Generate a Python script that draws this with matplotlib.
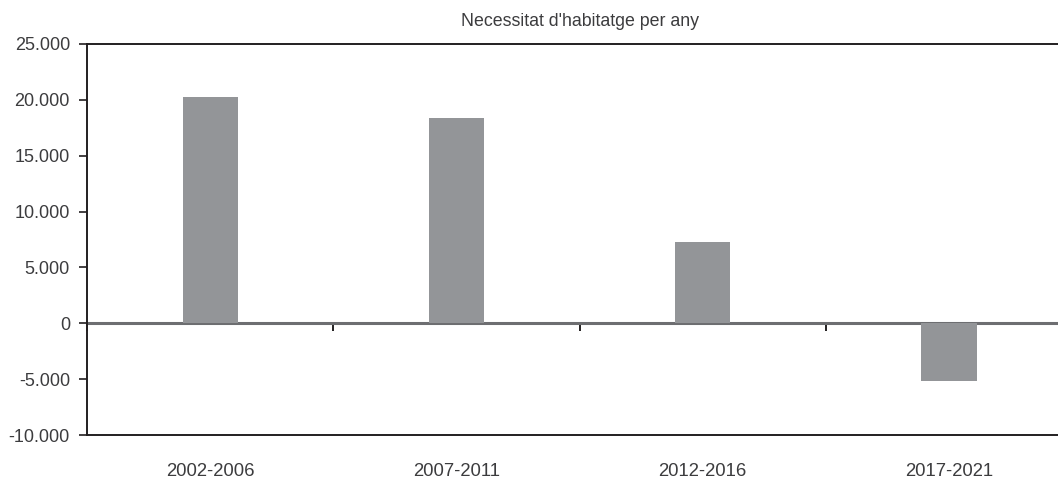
import matplotlib
matplotlib.use("Agg")
import matplotlib.pyplot as plt
from matplotlib.ticker import FuncFormatter, FixedLocator

categories = ["2002-2006", "2007-2011", "2012-2016", "2017-2021"]
values = [20300, 18400, 7300, -5200]
title = "Necessitat d'habitatge per any"
y_ticks = [-10000, -5000, 0, 5000, 10000, 15000, 20000, 25000]

plt.rcParams['font.family'] = ['Liberation Sans', 'DejaVu Sans']
text_color = '#3c3c3e'
bar_color = '#939598'
axis_color = '#231f20'
zero_color = '#6d6e71'

W, H = 1058, 479
fig = plt.figure(figsize=(W / 100, H / 100), dpi=100)
left, right, top, bottom = 87.3 / W, 1072 / W, 1 - 44 / H, 1 - 435 / H
ax = fig.add_axes([left, bottom, right - left, top - bottom])

x = list(range(len(categories)))
ax.bar(x, values, width=0.225, color=bar_color, zorder=2)

ymin, ymax = y_ticks[0], y_ticks[-1]
ax.set_ylim(ymin, ymax)
ax.set_xlim(-0.5, len(categories) - 0.5)

ax.yaxis.set_major_locator(FixedLocator(y_ticks))
ax.yaxis.set_major_formatter(FuncFormatter(lambda v, p: f"{int(v):,}".replace(",", ".")))
ax.tick_params(axis='y', direction='out', length=6, width=1.2, color=axis_color,
               labelsize=13, labelcolor=text_color, pad=6.5)

# bottom axis: category labels, no tick marks
ax.set_xticks(x)
ax.set_xticklabels(categories)
ax.tick_params(axis='x', length=0, labelsize=13.3, labelcolor=text_color, pad=20)

for s in ['top', 'bottom', 'left']:
    ax.spines[s].set_color(axis_color)
    ax.spines[s].set_linewidth(1.4)
ax.spines['right'].set_visible(False)

# zero line with boundary ticks
zero_loc = (0 - ymin) / (ymax - ymin)
sec = ax.secondary_xaxis(zero_loc)
sec.spines['bottom'].set_color(zero_color)
sec.spines['bottom'].set_linewidth(2.2)
sec.spines['bottom'].set_zorder(3)
sec.set_xticks([i - 0.5 for i in x])
sec.set_xticklabels([''] * len(x))
sec.tick_params(axis='x', direction='out', length=6, width=1.4, color=axis_color)

fig.text((left + right) / 2, 1 - 22 / H, title, ha='center', va='center',
         fontsize=12.8, color=text_color)

fig.savefig("out.png", dpi=100)
